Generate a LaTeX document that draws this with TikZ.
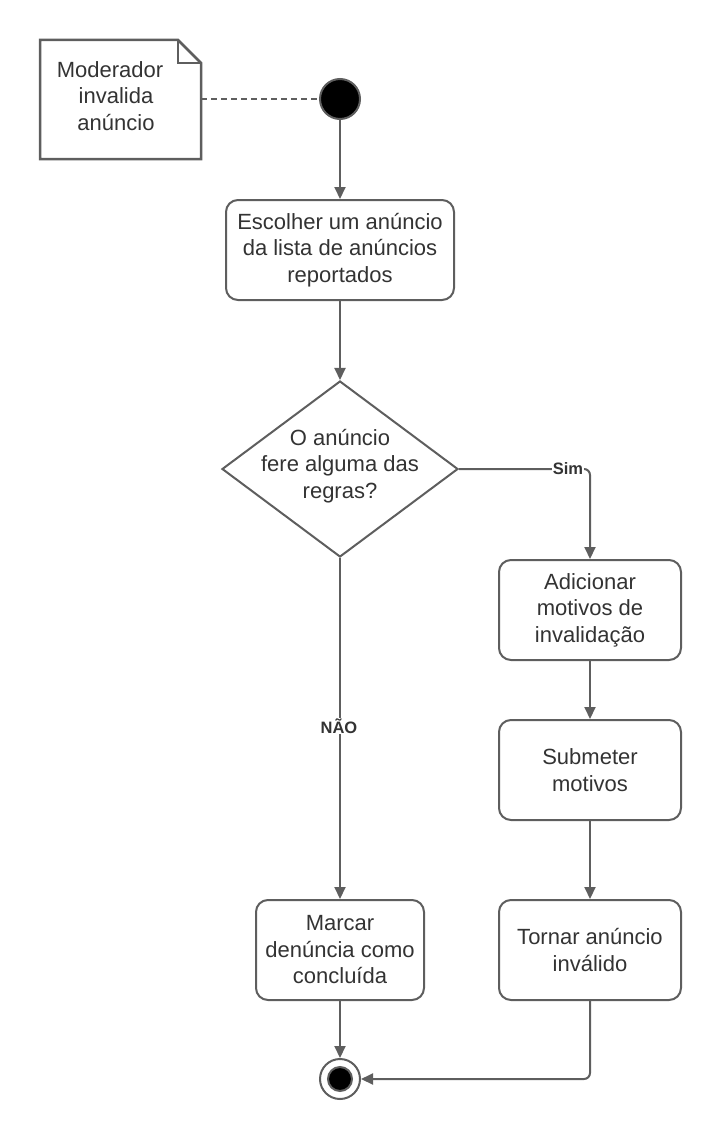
\documentclass[tikz,border=0pt]{standalone}
\usepackage{fontspec}
\setmainfont{Liberation Sans}
\usetikzlibrary{arrows.meta,positioning,shapes.geometric}
\definecolor{linegray}{HTML}{5E5E5E}
\definecolor{txtgray}{HTML}{333333}

\begin{document}
\begin{tikzpicture}[x=1pt,y=-1pt]
		\tikzstyle{activity}=[draw=linegray,line width=2pt,rounded corners=12pt,fill=white,text=txtgray,align=center,font=\fontsize{22}{26.5}\selectfont,inner sep=0pt]
		\tikzstyle{txt}=[text=txtgray,align=center,font=\fontsize{22}{26.5}\selectfont,inner sep=0pt]
		\tikzstyle{decision}=[diamond,draw=linegray,line width=2pt,fill=white,minimum width=236pt,minimum height=176pt,inner sep=0pt]
		\tikzstyle{startnode}=[circle,draw=linegray,line width=2pt,fill=black,minimum size=40pt,inner sep=0pt]
		\tikzstyle{endnode}=[circle,draw=linegray,line width=2pt,fill=white,minimum size=40pt,inner sep=0pt]
		\tikzstyle{flow}=[draw=linegray,line width=2pt,arrows={-Triangle[length=12pt,width=11pt]}]
		\tikzstyle{guard}=[fill=white,text=txtgray,font=\fontsize{16.5}{18}\selectfont\bfseries,inner sep=1pt]
		
		\useasboundingbox (0,0) rectangle (720,1140);
		
		% note
		\draw [linegray,line width=2.5pt,line join=miter] (40,40) -- (178,40) -- (201,63) -- (201,159) -- (40,159) -- cycle;
		\draw [linegray,line width=2.5pt] (178,40) -- (178,63) -- (201,63);
		\node[txt] (nota) at (116,96) {Moderador\hspace*{12pt}\\invalida\\anúncio};
		\coordinate (notaborda) at (201,99);
		
		\node[startnode] (inicio) at (340,99) {};
		\draw [linegray,line width=2pt,dashed,dash pattern=on 6pt off 4pt] (notaborda) -- (inicio.west);
		
		\node[activity, minimum width=228pt, minimum height=100pt] (escolher) at (340,250) {Escolher um anúncio\\da lista de anúncios\\reportados};
		\node[decision] (decisao) at (340,469) {};
		\node[txt] (pergunta) at (340,466) {O anúncio\\fere alguma das\\regras?};
		
		\node[activity, minimum width=182pt, minimum height=100pt] (adicionar) at (590,610) {Adicionar\\motivos de\\invalidação};
		\node[activity, minimum width=182pt, minimum height=100pt] (submeter) at (590,770) {Submeter\\motivos};
		\node[activity, minimum width=182pt, minimum height=100pt] (tornar) at (590,950) {Tornar anúncio\\inválido};
		\node[activity, minimum width=168pt, minimum height=100pt] (marcar) at (340,950) {Marcar\\denúncia como\\concluída};
		
		\node[endnode] (fim) at (340,1079) {};
		\node[circle,draw=linegray,line width=2pt,fill=black,minimum size=24pt,inner sep=0pt] (fimint) at (fim) {};
		
		\draw [flow] (inicio) -- (escolher);
		\draw [flow] (escolher) -- (decisao);
		\draw [flow,rounded corners=6pt] (decisao.east) -| (adicionar.north);
		\node[guard] (sim) at (568,469) {Sim};
		\draw [flow] (adicionar) -- (submeter);
		\draw [flow] (submeter) -- (tornar);
		\draw [flow] (decisao.south) -- (marcar.north);
		\node[guard] (nao) at (339,726) {NÃO};
		\draw [flow] (marcar) -- (fim);
		\draw [flow,rounded corners=6pt] (tornar.south) |- (fim.east);
\end{tikzpicture}
\end{document}
